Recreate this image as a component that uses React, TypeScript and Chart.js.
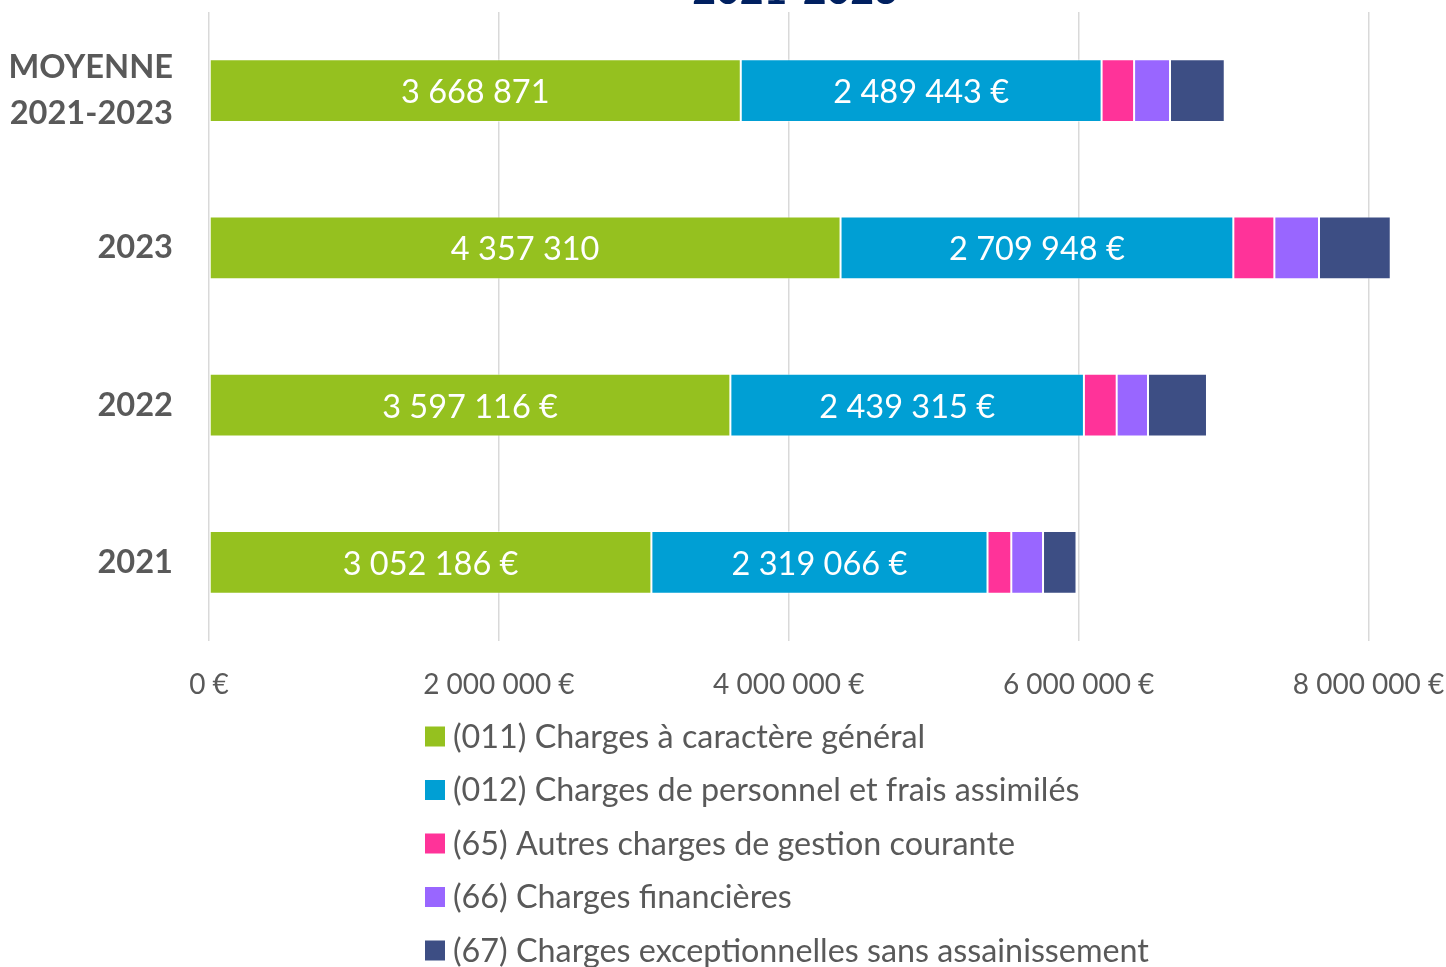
import React, { useEffect, useRef } from "react";
import { Chart, registerables } from "chart.js";

Chart.register(...registerables);

const categories: (string | string[])[] = [["MOYENNE", "2021-2023"], "2023", "2022", "2021"];

const seriesNames = [
  "(011) Charges à caractère général",
  "(012) Charges de personnel et frais assimilés",
  "(65) Autres charges de gestion courante",
  "(66) Charges financières",
  "(67) Charges exceptionnelles sans assainissement",
];

const charges011 = [3668871, 4357310, 3597116, 3052186];
const charges012 = [2489443, 2709948, 2439315, 2319066];
const charges65 = [224300, 283000, 226000, 164000];
const charges66 = [247700, 308000, 216000, 219000];
const charges67 = [377700, 495000, 407000, 231000];

const labels011 = ["3 668 871", "4 357 310", "3 597 116 €", "3 052 186 €"];
const labels012 = ["2 489 443 €", "2 709 948 €", "2 439 315 €", "2 319 066 €"];

const xTickValues = [0, 2000000, 4000000, 6000000, 8000000];

const titleText = "2021-2023";

const colors = ["#95C11F", "#009FD4", "#FF3399", "#9966FF", "#3D4E84"];

const FONT = "Lato, 'Open Sans', sans-serif";
const GRAY = "#595959";

function fmtEuro(v: number): string {
  return String(Math.round(v)).replace(/\B(?=(\d{3})+(?!\d))/g, " ") + " €";
}

const dataLabelPlugin = {
  id: "dataLabels",
  afterDatasetsDraw(chart: any) {
    const ctx = chart.ctx;
    const sets = [labels011, labels012];
    ctx.save();
    ctx.fillStyle = "#ffffff";
    ctx.font = `32.5px ${FONT}`;
    ctx.textAlign = "center";
    ctx.textBaseline = "middle";
    sets.forEach((labs, di) => {
      const meta = chart.getDatasetMeta(di);
      meta.data.forEach((bar: any, i: number) => {
        const p = bar.getProps(["x", "y", "base"], true);
        ctx.fillText(labs[i], (p.x + p.base) / 2, p.y + 2);
      });
    });
    ctx.restore();
  },
};

const legendPlugin = {
  id: "customLegend",
  afterDraw(chart: any) {
    const ctx = chart.ctx;
    ctx.save();
    ctx.font = `32.3px ${FONT}`;
    ctx.textBaseline = "middle";
    ctx.textAlign = "left";
    chart.data.datasets.forEach((ds: any, i: number) => {
      const cy = 736.5 + i * 53.5;
      ctx.fillStyle = ds.backgroundColor;
      ctx.fillRect(425, cy - 10, 20, 20);
      ctx.fillStyle = GRAY;
      ctx.fillText(ds.label, 453, cy + 1);
    });
    ctx.restore();
  },
};

const titlePlugin = {
  id: "partialTitle",
  afterDraw(chart: any) {
    const ctx = chart.ctx;
    ctx.save();
    ctx.font = `bold 41px ${FONT}`;
    ctx.fillStyle = "#002060";
    ctx.textAlign = "center";
    ctx.textBaseline = "alphabetic";
    ctx.fillText(titleText, 795, 3.5);
    ctx.restore();
  },
};

export default function App() {
  const ref = useRef<HTMLCanvasElement | null>(null);

  useEffect(() => {
    if (!ref.current) return;
    const values = [charges011, charges012, charges65, charges66, charges67];
    const chart = new Chart(ref.current, {
      type: "bar",
      data: {
        labels: categories as any,
        datasets: values.map((v, i) => ({
          label: seriesNames[i],
          data: v,
          backgroundColor: colors[i],
          borderColor: "rgba(255,255,255,0.45)",
          borderWidth: 1,
          borderSkipped: false,
          categoryPercentage: 1,
          barPercentage: 0.4,
        })),
      },
      options: {
        indexAxis: "y",
        responsive: false,
        animation: false,
        layout: { padding: { top: 12, right: 5, left: 0, bottom: 0 } },
        plugins: {
          legend: { display: false },
          title: { display: false },
          tooltip: { enabled: false },
        },
        scales: {
          x: {
            stacked: true,
            min: 0,
            max: 8500000,
            afterBuildTicks(scale: any) {
              scale.ticks = xTickValues.map((v) => ({ value: v }));
            },
            afterFit(scale: any) {
              scale.height = 326;
              scale.paddingLeft = 0;
              scale.paddingRight = 0;
              scale.paddingTop = 0;
              scale.paddingBottom = 0;
            },
            grid: { color: "#d9d9d9", lineWidth: 1.5, drawTicks: false },
            border: { display: false },
            ticks: {
              padding: 27,
              color: GRAY,
              font: { family: FONT, size: 28 },
              callback: (v: any) => fmtEuro(Number(v)),
            },
          },
          y: {
            stacked: true,
            afterFit(scale: any) {
              scale.width = 209;
              scale.paddingLeft = 0;
              scale.paddingRight = 0;
              scale.paddingTop = 0;
              scale.paddingBottom = 0;
            },
            grid: { display: false, drawTicks: false },
            border: { display: false },
            ticks: {
              padding: 36,
              color: GRAY,
              font: { family: FONT, size: 32.6, weight: "bold", lineHeight: 1.41 },
            },
          },
        },
      },
      plugins: [dataLabelPlugin, legendPlugin, titlePlugin],
    });
    return () => chart.destroy();
  }, []);

  return (
    <div style={{ position: "fixed", left: 0, top: 0, width: 1446, height: 967, background: "#fff" }}>
      <canvas ref={ref} width={1446} height={967} style={{ display: "block" }} />
    </div>
  );
}
